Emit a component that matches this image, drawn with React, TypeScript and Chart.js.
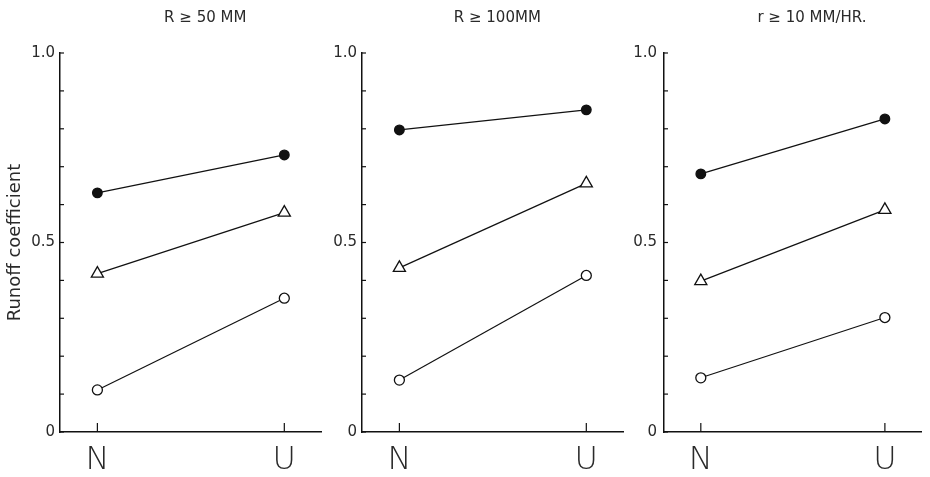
import React, { useEffect, useRef } from "react";
import { Chart, registerables } from "chart.js";

Chart.register(...registerables);

// ---- data ----
const categories = ["N", "U"];
const panelTitles = ["R ≥ 50 MM", "R ≥ 100MM", "r ≥ 10 MM/HR."];
const yAxisTitle = "Runoff coefficient";
const yTickValues = [0, 0.5, 1];
const yTickLabels = ["0", "0.5", "1.0"];

const filledR50 = [0.631, 0.731];
const triangleR50 = [0.418, 0.579];
const openR50 = [0.111, 0.353];

const filledR100 = [0.797, 0.85];
const triangleR100 = [0.433, 0.656];
const openR100 = [0.137, 0.413];

const filledR10h = [0.681, 0.826];
const triangleR10h = [0.398, 0.586];
const openR10h = [0.143, 0.302];

const panelSeries = [
  [filledR50, triangleR50, openR50],
  [filledR100, triangleR100, openR100],
  [filledR10h, triangleR10h, openR10h],
];

// ---- layout / style ----
const panelLayout = [
  { left: 0, width: 330, yWidth: 60, padRight: 7, tickPad: 5, titleFrac: 0.555, showYTitle: true },
  { left: 330, width: 302, yWidth: 32, padRight: 7, tickPad: 5, titleFrac: 0.517, showYTitle: false },
  { left: 632, width: 298, yWidth: 32, padRight: 3, tickPad: 7, titleFrac: 0.574, showYTitle: false },
];
const H = 477;
const INK = "#111";
const TEXT = "#2a2a2a";
const FONT = "'DejaVu Sans', sans-serif";

const markerStyles = [
  { pointStyle: "circle", radius: 4.8, fill: INK },
  { pointStyle: "triangle", radius: 7, fill: "#fff" },
  { pointStyle: "circle", radius: 5, fill: "#fff" },
];

const panelDecor = {
  id: "panelDecor",
  afterDraw(chart: any, _args: any, opts: any) {
    const { ctx, chartArea, scales } = chart;
    const xs = scales.x;
    const ys = scales.y;
    ctx.save();
    ctx.strokeStyle = INK;
    ctx.lineWidth = 1.2;
    for (let i = 0; i <= 10; i++) {
      const py = ys.getPixelForValue(i / 10);
      ctx.beginPath();
      ctx.moveTo(chartArea.left, py);
      ctx.lineTo(chartArea.left + 4, py);
      ctx.stroke();
    }
    categories.forEach((_c, i) => {
      const px = xs.getPixelForValue(i);
      ctx.beginPath();
      ctx.moveTo(px, chartArea.bottom);
      ctx.lineTo(px, chartArea.bottom - 9);
      ctx.stroke();
    });
    ctx.fillStyle = TEXT;
    ctx.font = `15px ${FONT}`;
    ctx.textAlign = "center";
    ctx.textBaseline = "middle";
    ctx.fillText(opts.text, chartArea.left + opts.frac * chartArea.width, 18);
    ctx.restore();
  },
};

function Panel({ index }: { index: number }) {
  const ref = useRef<HTMLCanvasElement | null>(null);
  const lay = panelLayout[index];
  useEffect(() => {
    if (!ref.current) return;
    const datasets = panelSeries[index].map((vals, si) => ({
      data: vals.map((v, i) => ({ x: i, y: v })),
      borderColor: INK,
      borderWidth: 1.2,
      pointStyle: markerStyles[si].pointStyle,
      pointRadius: markerStyles[si].radius,
      pointBackgroundColor: markerStyles[si].fill,
      pointBorderColor: INK,
      pointBorderWidth: 1.3,
      clip: false as any,
    }));
    const chart = new Chart(ref.current, {
      type: "line",
      data: { datasets },
      options: {
        animation: false,
        responsive: false,
        devicePixelRatio: 1,
        layout: { padding: { top: 53, left: 0, right: lay.padRight, bottom: 0 } },
        plugins: {
          legend: { display: false },
          tooltip: { enabled: false },
          panelDecor: { text: panelTitles[index], frac: lay.titleFrac },
        } as any,
        scales: {
          x: {
            type: "linear",
            min: -0.2,
            max: categories.length - 1 + 0.2,
            afterBuildTicks: (s: any) => {
              s.ticks = categories.map((_c, i) => ({ value: i }));
            },
            afterFit: (s: any) => {
              s.height = H - 432;
            },
            grid: { display: false, drawTicks: false },
            border: { display: true, color: INK, width: 1.5 },
            ticks: {
              padding: 9,
              color: TEXT,
              font: { family: FONT, size: 32, weight: 300 as any },
              callback: (v: any) => categories[Math.round(v)] ?? "",
            },
          },
          y: {
            type: "linear",
            min: 0,
            max: 1,
            afterBuildTicks: (s: any) => {
              s.ticks = yTickValues.map((v) => ({ value: v }));
            },
            afterFit: (s: any) => {
              s.width = lay.yWidth;
            },
            grid: { display: false, drawTicks: false },
            border: { display: true, color: INK, width: 1.5 },
            ticks: {
              padding: lay.tickPad,
              color: TEXT,
              font: { family: FONT, size: 15 },
              callback: (v: any) => {
                const k = yTickValues.findIndex((t) => Math.abs(t - v) < 1e-6);
                return k >= 0 ? yTickLabels[k] : "";
              },
            },
            title: {
              display: lay.showYTitle,
              text: yAxisTitle,
              color: TEXT,
              font: { family: FONT, size: 18 },
              padding: { top: 5, bottom: 0 },
            },
          },
        },
      },
      plugins: [panelDecor],
    });
    return () => chart.destroy();
  }, [index]);
  return (
    <canvas
      ref={ref}
      width={lay.width}
      height={H}
      style={{ position: "absolute", left: lay.left, top: 0, width: lay.width, height: H }}
    />
  );
}

export default function App() {
  return (
    <div style={{ position: "fixed", left: 0, top: 0, width: 930, height: H, background: "#fff" }}>
      {panelLayout.map((_p, i) => (
        <Panel key={i} index={i} />
      ))}
    </div>
  );
}
